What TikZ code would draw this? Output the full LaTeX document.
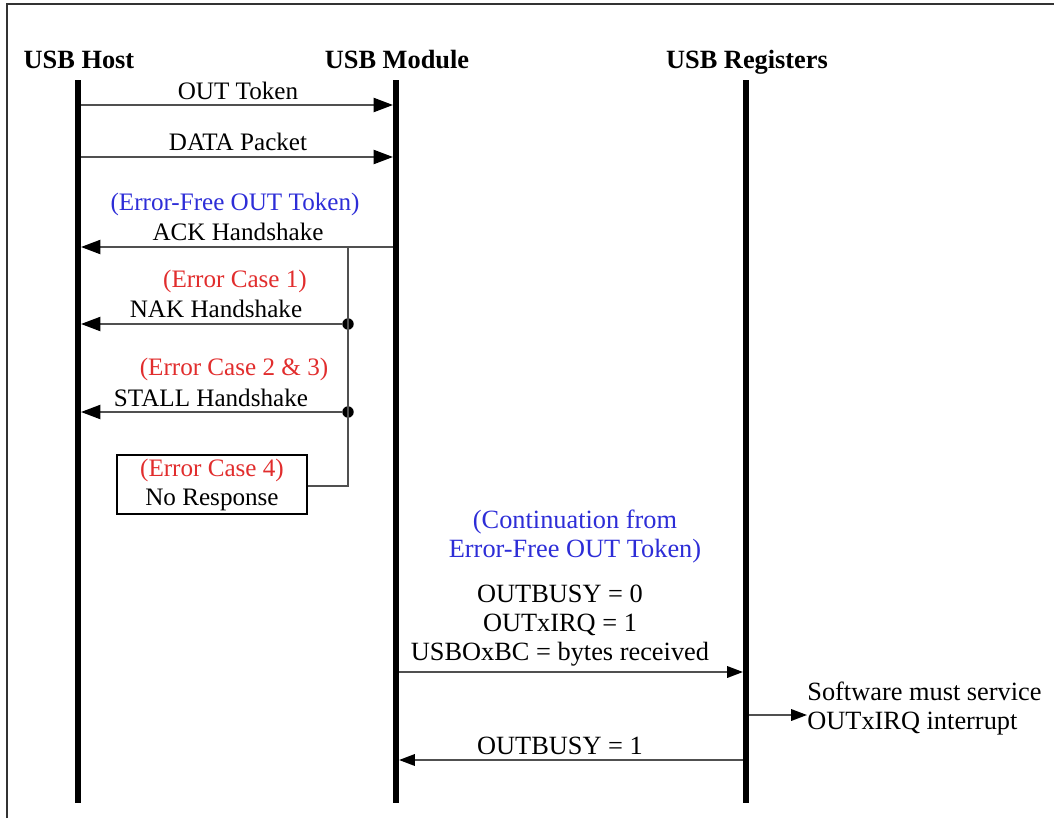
\documentclass[tikz,border=0pt]{standalone}
\usepackage{fontspec}
\setmainfont{Liberation Serif}
\usetikzlibrary{arrows.meta, positioning}
\definecolor{casered}{RGB}{225,45,45}
\definecolor{caseblue}{RGB}{45,45,215}
\definecolor{msggray}{RGB}{80,80,80}

\tikzset{
  lifeline/.style={line width=3.4pt},
  msg/.style={line width=1.1pt, msggray, -{Triangle[length=11pt,width=8pt,color=black]}},
  smallmsg/.style={line width=1.1pt, msggray, -{Triangle[length=9pt,width=6.5pt,color=black]}},
  branch/.style={line width=1.1pt, msggray},
  lbl/.style={font=\fontsize{14.3}{16.5}\selectfont, inner sep=0pt, align=center},
  biglbl/.style={font=\fontsize{15}{16.5}\selectfont, inner sep=0pt, align=center},
  hdr/.style={font=\fontsize{15}{16}\selectfont\bfseries, inner sep=0pt, anchor=base},
  joint/.style={circle, fill=black, inner sep=0pt, minimum size=6.5pt},
}

\begin{document}
\begin{tikzpicture}[x=0.02cm, y=-0.02cm]
    \useasboundingbox (0,0) rectangle (1054,818);

    % Frame
    \draw[line width=1.2pt, black!80] (7,818) -- (7,4) -- (1054,4);

    % Headers
    \node[hdr] (host) at (79,68) {USB Host};
    \node[hdr] (module) at (397,68) {USB Module};
    \node[hdr] (regs) at (747,68) {USB Registers};

    % Lifelines
    \coordinate (hostT) at (78,80);   \coordinate (hostB) at (78,803);
    \coordinate (modT) at (396,80);   \coordinate (modB) at (396,803);
    \coordinate (regT) at (746,80);   \coordinate (regB) at (746,803);
    \draw[lifeline] (hostT) -- (hostB);
    \draw[lifeline] (modT) -- (modB);
    \draw[lifeline] (regT) -- (regB);

    % OUT token and data packet
    \coordinate (h1) at (81,105);  \coordinate (m1) at (393,105);
    \coordinate (h2) at (81,157);  \coordinate (m2) at (393,157);
    \draw[msg] (h1) -- (m1);
    \node[lbl] (outtok) at (238,91) {OUT Token};
    \draw[msg] (h2) -- (m2);
    \node[lbl] (datapkt) at (238,142) {DATA Packet};

    % Error-free case
    \node[lbl, text=caseblue] (errfree) at (235,204) {(Error-Free OUT Token)};
    \node[lbl] (ack) at (238,232) {ACK Handshake};
    \coordinate (m3) at (393,247);  \coordinate (h3) at (81,247);
    \coordinate (ackfork) at (348,247);
    \draw[msg] (m3) -- (h3);

    % Error case 1
    \node[lbl, text=casered] (err1) at (235,281) {(Error Case 1)};
    \node[lbl] (nak) at (216,309) {NAK Handshake};
    \node[joint] (nakdot) at (348,324) {};
    \coordinate (h4) at (81,324);
    \draw[msg] (nakdot) -- (h4);

    % Error case 2 & 3
    \node[lbl, text=casered] (err23) at (234,369) {(Error Case 2 \& 3)};
    \node[lbl] (stall) at (211,398) {STALL Handshake};
    \node[joint] (stalldot) at (348,412) {};
    \coordinate (h5) at (81,412);
    \draw[msg] (stalldot) -- (h5);

    % Error case 4
    \node[lbl, draw, line width=0.9pt, minimum width=3.8cm, minimum height=1.18cm]
        (noresp) at (212,484.5) {\textcolor{casered}{(Error Case 4)}\\No Response};
    \coordinate (nobend) at (348,486);
    \draw[branch] (ackfork) -- (nakdot.center) -- (stalldot.center) -- (nobend) -- (noresp.east |- nobend);

    % Continuation
    \node[biglbl, text=caseblue] (contin) at (575,537) {(Continuation from\\Error-Free OUT Token)};
    \node[biglbl] (setregs) at (560,626) {OUTBUSY = 0\\OUTxIRQ = 1\\USBOxBC = bytes received};
    \coordinate (m6) at (399,672);  \coordinate (r6) at (743,672);
    \draw[smallmsg] (m6) -- (r6);

    % Software service
    \node[biglbl, align=left, anchor=west] (service) at (807,709) {Software must service\\OUTxIRQ interrupt};
    \coordinate (r7) at (749,715);
    \draw[smallmsg] (r7) -- (r7 -| service.west);

    % Busy again
    \node[biglbl] (busy1) at (560,746) {OUTBUSY = 1};
    \coordinate (r8) at (743,760);  \coordinate (m8) at (399,760);
    \draw[smallmsg] (r8) -- (m8);
\end{tikzpicture}
\end{document}
